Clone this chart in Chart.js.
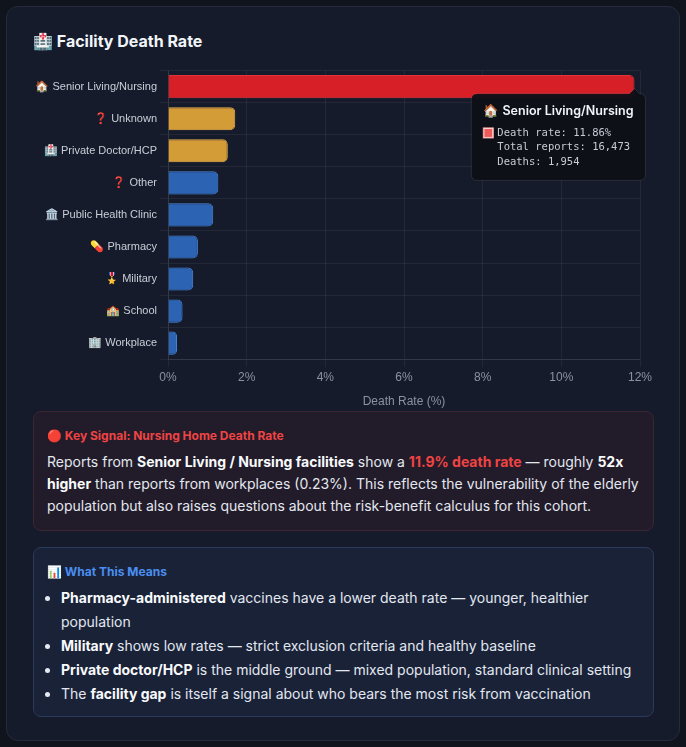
<!DOCTYPE html>
<html>
<head>
<meta charset="utf-8">
<script src="https://cdn.jsdelivr.net/npm/chart.js@4.4.1/dist/chart.umd.min.js"></script>
<style>
  html, body { margin: 0; padding: 0; background: #10141d; }
  body { width: 686px; height: 747px; position: relative; overflow: hidden; font-family: Inter, "Noto Sans", sans-serif; }
  .card {
    position: absolute; left: 6px; top: 6px; width: 672px; height: 733px;
    background: #161b2b; border: 1px solid #252b3b; border-radius: 12px;
  }
  .title {
    position: absolute; left: 26px; top: 22px; font-size: 16px; font-weight: 700; color: #f1f5f9;
    line-height: 24px;
  }
  .chart-wrap { position: absolute; left: 24px; top: 54px; width: 625px; height: 352px; }
  .box {
    position: absolute; left: 26px; width: 593px; padding: 0 13px;
    border-radius: 8px; box-sizing: content-box;
  }
  .signal { top: 404px; height: 118px; background: #221b29; border: 1px solid #3d2534; }
  .means { top: 540px; height: 168px; background: #1a2238; border: 1px solid #2b3a5a; }
  .box h4 { margin: 15px 0 0 0; font-size: 12px; font-weight: 700; line-height: 18px; }
  .signal h4 { color: #ef4444; }
  .means h4 { color: #4a8ff0; }
  .box p { margin: 6px 0 0 0; font-size: 14px; line-height: 22px; color: #e2e8f0; }
  .box ul { margin: 5px 0 0 0; padding-left: 14px; font-size: 14px; line-height: 24px; color: #e2e8f0; }
  .box b { color: #f8fafc; font-weight: 700; }
  .red { color: #ef4444; font-weight: 700; }
</style>
</head>
<body>
<div class="card">
  <div class="title">🏥 Facility Death Rate</div>
  <div class="chart-wrap"><canvas id="facility"></canvas></div>
  <div class="box signal">
    <h4>🔴 Key Signal: Nursing Home Death Rate</h4>
    <p>Reports from <b>Senior Living / Nursing facilities</b> show a <span class="red">11.9% death rate</span> — roughly <b>52x higher</b> than reports from workplaces (0.23%). This reflects the vulnerability of the elderly population but also raises questions about the risk-benefit calculus for this cohort.</p>
  </div>
  <div class="box means">
    <h4>📊 What This Means</h4>
    <ul>
      <li><b>Pharmacy-administered</b> vaccines have a lower death rate — younger, healthier population</li>
      <li><b>Military</b> shows low rates — strict exclusion criteria and healthy baseline</li>
      <li><b>Private doctor/HCP</b> is the middle ground — mixed population, standard clinical setting</li>
      <li>The <b>facility gap</b> is itself a signal about who bears the most risk from vaccination</li>
    </ul>
  </div>
</div>
<script>
'use strict'

const facilities = ['🏠 Senior Living/Nursing', '❓ Unknown', '🏥 Private Doctor/HCP', '❓ Other',
  '🏛️ Public Health Clinic', '💊 Pharmacy', '🎖️ Military', '🏫 School', '🏢 Workplace']
const deathRates = [11.86, 1.71, 1.52, 1.28, 1.15, 0.76, 0.64, 0.37, 0.23]
// only the nursing row is readable from the tooltip
const totalReports = [16473, null, null, null, null, null, null, null, null]
const deathCounts = [1954, null, null, null, null, null, null, null, null]
const xTicks = [0, 2, 4, 6, 8, 10, 12]

const RED = { fill: '#d71f27', line: '#e0343b' }
const GOLD = { fill: '#d49c36', line: '#e6b04c' }
const BLUE = { fill: '#2c63b2', line: '#4a86dc' }

function barTone (i) {
  if (i === 0) return RED
  if (i < 3) return GOLD
  return BLUE
}

function fmt (n) {
  return n.toLocaleString('en-US')
}

const ctx = document.getElementById('facility').getContext('2d')
const chart = new Chart(ctx, {
  type: 'bar',
  data: {
    labels: facilities,
    datasets: [{
      label: 'Death rate',
      data: deathRates,
      backgroundColor: facilities.map((f, i) => barTone(i).fill),
      borderColor: facilities.map((f, i) => barTone(i).line),
      hoverBackgroundColor: facilities.map((f, i) => barTone(i).fill),
      borderWidth: 1,
      borderRadius: 5,
      borderSkipped: 'start'
    }]
  },
  options: {
    indexAxis: 'y',
    responsive: true,
    maintainAspectRatio: false,
    animation: false,
    layout: { padding: { top: 8, right: 16, left: 0, bottom: 0 } },
    plugins: {
      legend: { display: false },
      tooltip: {
        enabled: true,
        xAlign: 'right',
        yAlign: 'top',
        backgroundColor: 'rgba(14,16,22,0.96)',
        borderColor: 'rgba(255,255,255,0.10)',
        borderWidth: 1,
        cornerRadius: 6,
        caretSize: 5,
        padding: { top: 10, bottom: 12, left: 12, right: 12 },
        titleColor: '#f1f5f9',
        titleFont: { family: 'Inter', size: 12.5, weight: '600' },
        titleMarginBottom: 8,
        bodyColor: '#c7ccd6',
        bodyFont: { family: 'DejaVu Sans Mono', size: 10.5 },
        bodySpacing: 2,
        boxWidth: 10,
        boxHeight: 10,
        boxPadding: 2,
        callbacks: {
          title: items => items[0].label,
          label: item => 'Death rate: ' + item.raw.toFixed(2) + '%',
          afterLabel: item => {
            const out = []
            if (totalReports[item.dataIndex] != null) out.push('Total reports: ' + fmt(totalReports[item.dataIndex]))
            if (deathCounts[item.dataIndex] != null) out.push('Deaths: ' + fmt(deathCounts[item.dataIndex]))
            return out
          },
          labelColor: () => ({ backgroundColor: '#ee5b5b', borderColor: '#f7a1a1', borderWidth: 1 })
        }
      }
    },
    scales: {
      x: {
        min: 0,
        max: 12,
        afterBuildTicks: scale => { scale.ticks = xTicks.map(v => ({ value: v })) },
        ticks: { color: '#8a92a2', font: { size: 12 }, callback: v => v + '%' },
        grid: { color: 'rgba(255,255,255,0.06)' },
        border: { color: 'rgba(255,255,255,0.08)' },
        title: { display: true, text: 'Death Rate (%)', color: '#8a92a2', font: { size: 12 }, padding: { top: 7, bottom: 4 } }
      },
      y: {
        afterFit: scale => { scale.width = 137 },
        ticks: { color: '#c9ced8', font: { size: 11 } },
        grid: { color: 'rgba(255,255,255,0.06)' },
        border: { color: 'rgba(255,255,255,0.08)' }
      }
    }
  }
})

chart.tooltip.setActiveElements([{ datasetIndex: 0, index: 0 }], { x: 0, y: 0 })
chart.update()
</script>
</body>
</html>
